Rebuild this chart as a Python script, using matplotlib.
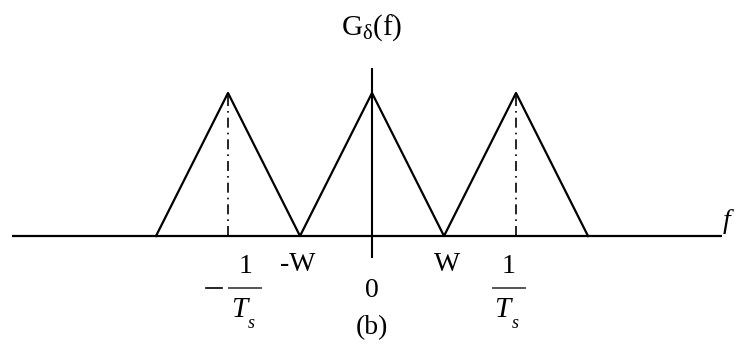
import matplotlib.pyplot as plt

plt.rcParams["font.family"] = ["Liberation Serif", "DejaVu Serif"]
plt.rcParams["mathtext.fontset"] = "custom"
plt.rcParams["mathtext.rm"] = "Liberation Serif"
plt.rcParams["mathtext.it"] = "Liberation Serif:italic"

# sampled spectrum, frequencies in units of W, sampling rate 1/Ts = 2W
W = 1.0
fs = 2.0
spectrum_f = [-3.0, -2.0, -1.0, 0.0, 1.0, 2.0, 3.0]
spectrum_g = [0.0, 1.0, 0.0, 1.0, 0.0, 1.0, 0.0]
replica_centers = [-fs, fs]

fig = plt.figure(figsize=(7.39, 3.56), dpi=100)
ax = fig.add_axes([0, 0, 1, 1])
ax.set_xlim(-5.1667, 5.097)
ax.set_ylim(-0.839, 1.650)
ax.axis("off")

# axes
ax.plot([-5.0, 4.86], [0, 0], color="black", lw=1.6, solid_capstyle="butt")
ax.plot([0, 0], [-0.154, 1.175], color="black", lw=1.5, solid_capstyle="butt")

# triangles
ax.plot(spectrum_f, spectrum_g, color="black", lw=1.6)

# dash-dot markers at the replica centres
for c in replica_centers:
    ax.plot([c, c], [0, 1], color="black", lw=1.2, linestyle=(0, (6, 3, 1, 3)))

fs_txt = 20
ax.text(0, 1.455, r"G$_{\mathrm{\delta}}$(f)", ha="center", va="center", fontsize=21)
ax.text(4.93, 0.10, "f", ha="center", va="center", fontsize=fs_txt, style="italic")
ax.text(-W - 0.03, -0.20, "-W", ha="center", va="center", fontsize=fs_txt)
ax.text(W + 0.04, -0.20, "W", ha="center", va="center", fontsize=fs_txt)
ax.text(0, -0.378, "0", ha="center", va="center", fontsize=fs_txt)
ax.text(0, -0.643, "(b)", ha="center", va="center", fontsize=fs_txt)

# 1/Ts fractions
for c, sign in [(-fs, -1), (fs, 1)]:
    xc = c + (0.24 if sign < 0 else -0.10)
    ax.text(xc, -0.21, "1", ha="center", va="center", fontsize=fs_txt)
    ax.plot([xc - 0.225, xc + 0.225], [-0.364, -0.364], color="#555555", lw=1.4)
    ax.text(xc - 0.09, -0.517, "T", ha="center", va="center", fontsize=21, style="italic")
    ax.text(xc + 0.09, -0.61, "s", ha="center", va="center", fontsize=13, style="italic")
    if sign < 0:
        ax.plot([xc - 0.55, xc - 0.33], [-0.364, -0.364], color="black", lw=1.2)

fig.savefig("out.png", dpi=100)
